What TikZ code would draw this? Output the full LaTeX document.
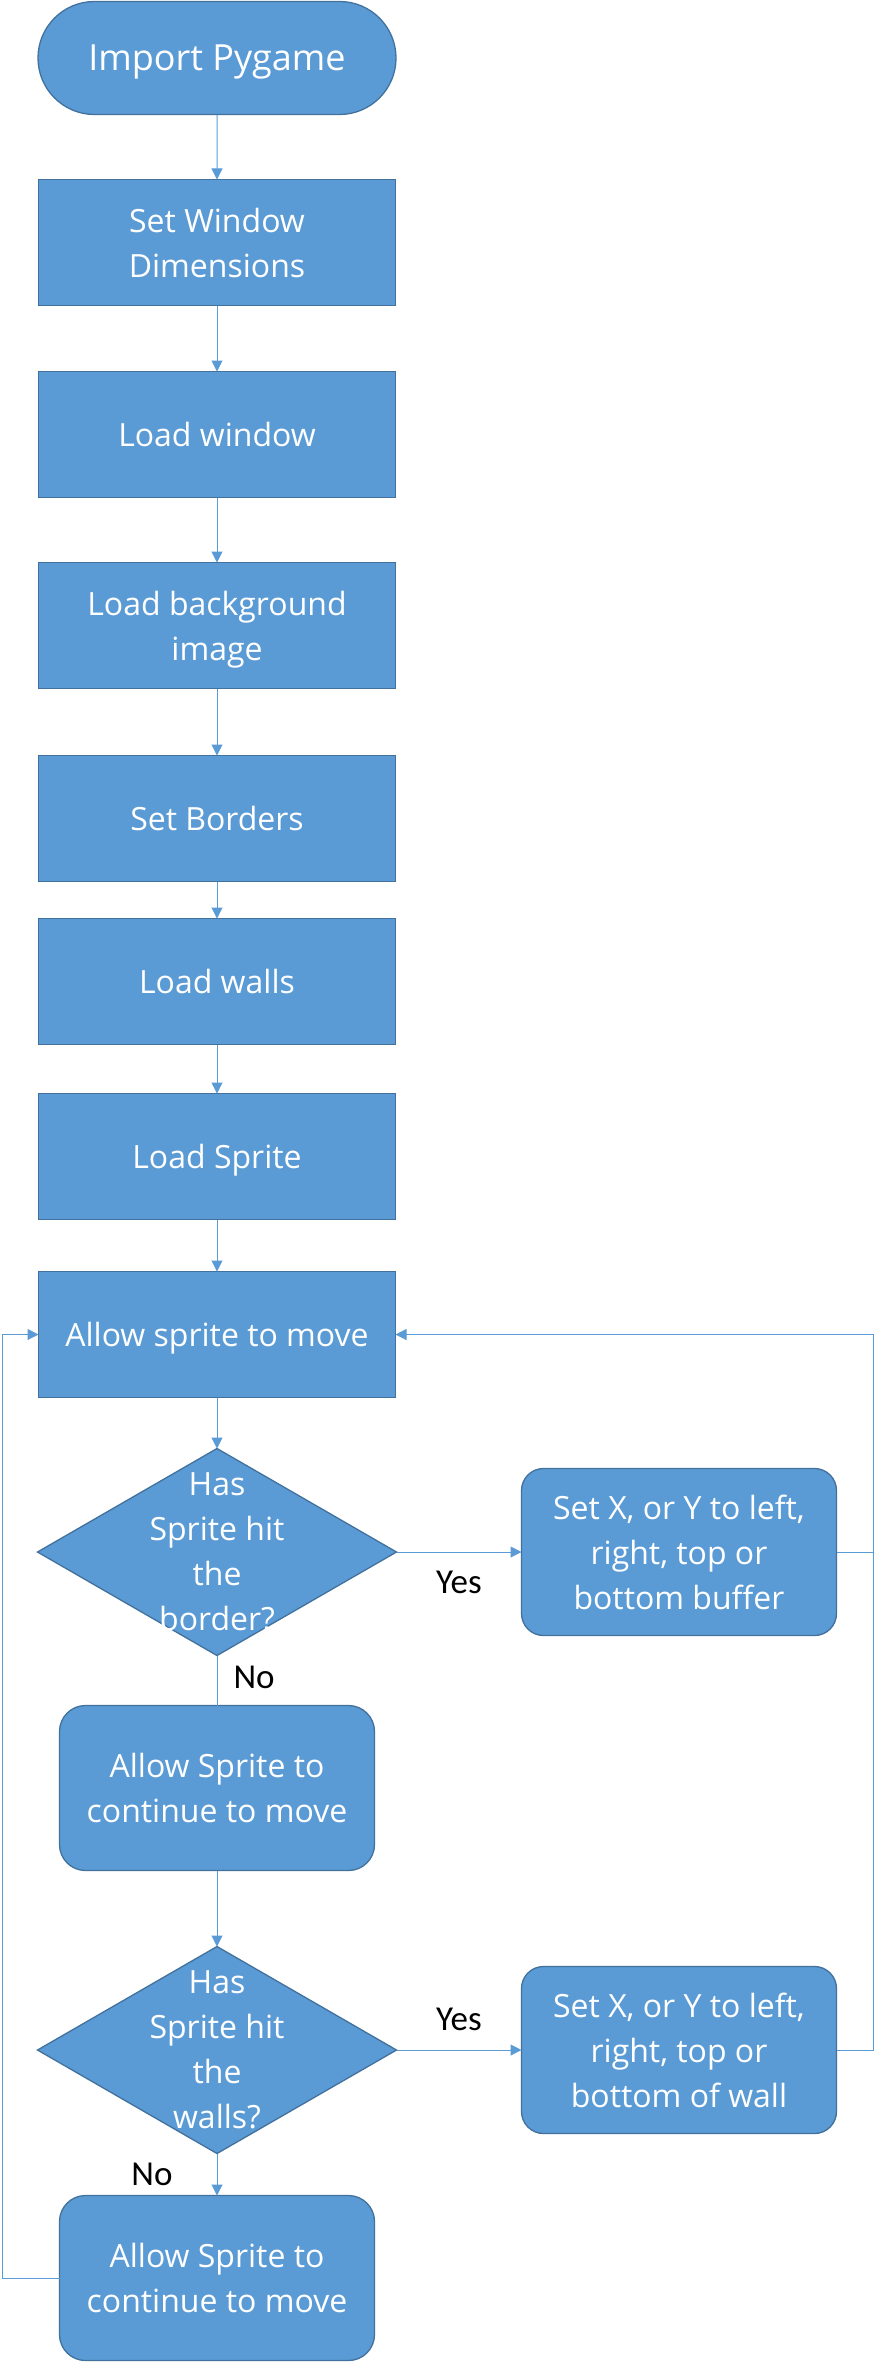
\documentclass[tikz,border=0pt]{standalone}
\usepackage{fontspec}
\setmainfont{Open Sans}
\newfontfamily\lblfont{Carlito}
\usetikzlibrary{shapes.geometric, shapes.misc, arrows.meta, positioning}

\definecolor{boxfill}{HTML}{5B9BD5}
\definecolor{boxedge}{HTML}{41719C}

\begin{document}
\begin{tikzpicture}[
    x=1pt, y=-1pt,
    base/.style={draw=boxedge, fill=boxfill, line width=1.3pt, text=white, font=\fontsize{32}{45}\selectfont, align=center, inner sep=0pt, outer sep=0pt, text depth=0pt},
    startstop/.style={base, rounded rectangle, minimum width=358pt, minimum height=113pt, font=\fontsize{36}{45}\selectfont},
    process/.style={base, rectangle, minimum width=357pt, minimum height=126pt},
    softbox/.style={base, rectangle, rounded corners=26pt, minimum width=315pt, minimum height=165pt},
    sidebox/.style={base, rectangle, rounded corners=22pt, minimum width=315pt, minimum height=167pt},
    decision/.style={base, diamond, minimum width=359pt, minimum height=207pt},
    dtext/.style={text=white, font=\fontsize{32}{45}\selectfont, align=center, inner sep=0pt, text depth=0pt},
    lbl/.style={font=\lblfont\fontsize{35}{40}\selectfont, text=black, inner sep=2pt},
    line/.style={draw=boxfill, line width=1pt, -{Triangle[width=11pt,length=11pt]}},
    plain/.style={draw=boxfill, line width=1pt}
]
    \useasboundingbox (0,0) rectangle (876,2365);

    % Nodes
    \node[startstop] (start) at (217,58) {Import Pygame};
    \node[process, below=65pt of start] (dims) {Set Window\\Dimensions};
    \node[process, below=66pt of dims] (window) {Load window};
    \node[process, below=65pt of window] (backdrop) {Load background\\image};
    \node[process, below=67pt of backdrop] (borders) {Set Borders};
    \node[process, below=37pt of borders] (walls) {Load walls};
    \node[process, below=49pt of walls] (sprite) {Load Sprite};
    \node[process, below=52pt of sprite] (move) {Allow sprite to move};

    % Border check
    \node[decision, below=51pt of move] (hitborder) {};
    \node[dtext] (hitbordertext) at (hitborder) {Has\\Sprite hit\\the\\border?};
    \node[sidebox, right=125pt of hitborder] (buffer) {Set X, or Y to left,\\right, top or\\bottom buffer};
    \node[softbox, below=50pt of hitborder] (keepgoing) {Allow Sprite to\\continue to move};

    % Wall check
    \node[decision, below=76pt of keepgoing] (hitwall) {};
    \node[dtext] (hitwalltext) at (hitwall) {Has\\Sprite hit\\the\\walls?};
    \node[sidebox, right=125pt of hitwall] (wallstop) {Set X, or Y to left,\\right, top or\\bottom of wall};
    \node[softbox, below=42pt of hitwall] (keepgoingb) {Allow Sprite to\\continue to move};

    % Arrows
    \foreach \a/\b in {start/dims, dims/window, window/backdrop, backdrop/borders,
                       borders/walls, walls/sprite, sprite/move, move/hitborder,
                       keepgoing/hitwall}
        \path[line] (\a) -- (\b);

    \path[line] (hitborder) -- node[lbl, below=17pt] {Yes} (buffer);
    \path[plain] (hitborder) -- node[lbl, right=14pt, yshift=3pt] {No} (keepgoing);
    \path[line] (hitwall) -- node[lbl, above=17pt] {Yes} (wallstop);
    \path[line] (hitwall) -- node[lbl, left=42pt] {No} (keepgoingb);

    % Loop back
    \path[plain] (buffer.east) -- ++(37,0);
    \path[line] (wallstop.east) -- ++(37,0) |- (move.east);
    \path[line] (keepgoingb.west) -- ++(-57,0) |- (move.west);

\end{tikzpicture}
\end{document}
